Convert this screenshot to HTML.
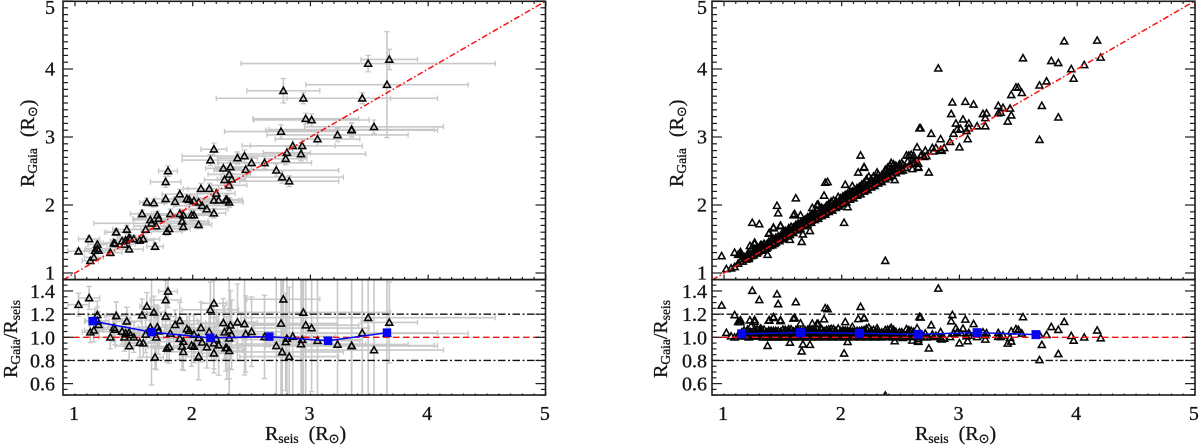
<!DOCTYPE html>
<html>
<head>
<meta charset="utf-8">
<title>Rgaia vs Rseis</title>
<style>
html,body{margin:0;padding:0;background:#fff;width:1200px;height:447px;overflow:hidden}
svg{display:block;filter:blur(0.3px)}
text{font-family:"Liberation Serif","DejaVu Serif",serif;fill:#151515;stroke:#151515;stroke-width:0.3px}
.sun{font-family:"DejaVu Sans",sans-serif;font-size:13px}
.sub{font-size:13.5px}
</style>
</head>
<body>
<svg id="chart" xmlns="http://www.w3.org/2000/svg" width="1200" height="447" viewBox="0 0 1200 447">
<defs>
<clipPath id="clip-left-upper"><rect x="63" y="1.3" width="482.5" height="278.3"/></clipPath>
<clipPath id="clip-left-lower"><rect x="63" y="279.6" width="482.5" height="115.4"/></clipPath>
<clipPath id="clip-right-upper"><rect x="712" y="1.3" width="483" height="278.3"/></clipPath>
<clipPath id="clip-right-lower"><rect x="712" y="279.6" width="483" height="115.4"/></clipPath>
</defs>
<g id="layer"></g>
<text transform="translate(34 187) rotate(-90)" font-size="20">R<tspan class="sub" dy="3">Gaia</tspan><tspan dy="-3" dx="11">(R</tspan><tspan class="sun" dy="3">⊙</tspan><tspan dy="-3">)</tspan></text>
<text transform="translate(683 187) rotate(-90)" font-size="20">R<tspan class="sub" dy="3">Gaia</tspan><tspan dy="-3" dx="11">(R</tspan><tspan class="sun" dy="3">⊙</tspan><tspan dy="-3">)</tspan></text>
<text transform="translate(17 378) rotate(-90)" font-size="20">R<tspan class="sub" dy="3">Gaia</tspan><tspan dy="-3">/R</tspan><tspan class="sub" dy="3">seis</tspan></text>
<text transform="translate(667 378) rotate(-90)" font-size="20">R<tspan class="sub" dy="3">Gaia</tspan><tspan dy="-3">/R</tspan><tspan class="sub" dy="3">seis</tspan></text>
<text x="265" y="440" font-size="20">R<tspan class="sub" dy="3">seis</tspan><tspan dy="-3" dx="10">(R</tspan><tspan class="sun" dy="3">⊙</tspan><tspan dy="-3">)</tspan></text>
<text x="915" y="440" font-size="20">R<tspan class="sub" dy="3">seis</tspan><tspan dy="-3" dx="10">(R</tspan><tspan class="sun" dy="3">⊙</tspan><tspan dy="-3">)</tspan></text>
</svg>
<script>
var xTickLabels = ['1','2','3','4','5'];
var upperYTickLabels = ['1','2','3','4','5'];
var lowerYTickLabels = ['0.6','0.8','1.0','1.2','1.4'];
var referenceLines = [0.8, 1.2];
var unityRange = [0.9, 5];

var leftRseis = [1.03,1.12,1.13,1.16,1.17,1.19,1.19,1.20,1.30,1.33,1.34,1.35,1.35,1.40,1.42,1.43,1.44,1.46,1.46,1.47,1.50,1.55,1.58,1.57,1.60,1.61,1.64,1.65,1.67,1.68,1.69,1.70,1.71,1.77,1.77,1.79,1.78,1.80,1.81,1.85,1.89,1.89,1.91,1.92,1.92,1.95,1.97,1.99,2.01,2.01,2.05,2.05,2.07,2.08,2.12,2.14,2.18,2.15,2.18,2.20,2.18,2.22,2.26,2.27,2.28,2.31,2.29,2.32,2.31,2.33,2.31,2.38,2.44,2.45,2.50,2.61,2.71,2.75,2.76,2.77,2.79,2.80,2.82,2.85,2.92,2.93,2.94,2.96,3.01,3.06,3.23,3.35,3.35,3.44,3.49,3.54,3.65,3.67];
var leftRgaia = [1.32,1.50,1.18,1.23,1.33,1.42,1.36,1.33,1.30,1.44,1.43,1.60,1.60,1.47,1.42,1.48,1.64,1.52,1.35,1.50,1.50,1.48,1.50,1.87,1.64,2.04,1.78,1.73,2.03,1.39,1.69,1.85,1.80,2.09,2.34,2.50,1.61,1.65,1.87,2.05,2.16,1.87,1.76,1.85,1.68,2.09,2.08,1.85,1.85,2.06,2.04,1.71,2.24,1.99,1.94,2.24,1.88,2.66,2.82,2.17,2.07,2.07,2.54,2.37,2.07,2.04,2.08,2.56,2.45,2.38,2.29,2.69,2.72,2.52,2.62,2.62,2.51,3.08,2.41,3.68,2.68,2.77,2.35,2.87,2.75,2.87,3.57,3.27,3.25,2.97,3.03,3.11,3.10,3.57,4.08,3.15,3.77,4.14];
var leftRseisErr = [.09,.09,.07,.08,.09,.08,.10,.08,.10,.09,.12,.10,.08,.10,.09,.11,.12,.10,.12,.09,.11,.12,.14,.10,.15,.06,.14,.49,.09,.07,.19,.16,.22,.09,.13,.08,.13,.18,.16,.11,.15,.20,.22,.25,.16,.19,.13,.15,.17,.14,.21,.11,.15,.24,.18,.18,.10,.24,.11,.16,.15,.20,.15,.17,.11,.12,.13,.13,.18,.12,.15,.17,.53,.25,.28,.40,.53,.48,.52,.31,.18,.20,.42,.36,.55,.51,.74,.45,.49,.36,.60,.70,.73,.64,1.08,.59,.69,.24];
var leftRgaiaErr = [.04,.04,.04,.04,.05,.05,.05,.04,.05,.05,.05,.05,.05,.05,.05,.05,.06,.05,.05,.05,.05,.05,.05,.06,.06,.06,.06,.06,.06,.05,.06,.06,.06,.07,.08,.08,.06,.06,.07,.07,.07,.07,.06,.07,.06,.07,.07,.07,.07,.07,.07,.06,.08,.07,.07,.08,.07,.08,.09,.07,.07,.07,.08,.08,.07,.07,.07,.09,.08,.08,.08,.09,.09,.09,.09,.09,.09,.10,.09,.18,.09,.09,.08,.10,.10,.10,.08,.08,.09,.10,.10,.10,.10,.08,.12,.10,.78,.15];
var leftRatioErr = [.10,.10,.09,.10,.11,.12,.12,.11,.10,.12,.13,.12,.12,.11,.12,.11,.12,.12,.13,.11,.13,.13,.12,.14,.16,.12,.12,.46,.14,.10,.28,.18,.20,.15,.17,.14,.12,.14,.16,.13,.16,.18,.20,.17,.16,.13,.15,.18,.14,.16,.15,.20,.22,.17,.18,.20,.17,.24,.20,.19,.22,.26,.21,.23,.20,.24,.27,.30,.62,.30,.26,.33,.44,.33,.30,.36,.70,.65,.75,.50,.42,.55,.60,.55,.95,.95,.90,.62,.55,.62,.75,.85,.85,.80,.90,.85,.85,.35];

var rightRseis = [0.98,1.02,1.06,1.09,1.09,1.13,1.14,1.24,1.30,1.22,1.26,1.37,1.38,1.42,1.45,1.46,1.48,1.61,1.60,1.66,1.73,1.85,1.86,1.88,1.80,2.02,2.05,2.03,2.09,2.14,2.19,2.16,2.37,2.45,2.30,2.64,2.66,
2.82,2.67,2.76,2.84,2.74,3.00,3.07,2.94,3.05,3.12,2.93,3.03,2.97,3.08,2.95,2.98,3.01,3.06,3.08,3.15,3.22,3.20,3.23,3.22,3.33,3.33,3.35,3.37,3.43,3.44,3.41,3.44,3.48,3.50,3.53,3.54,3.68,3.74,3.70,3.68,3.84,3.78,3.84,3.89,3.95,3.97,4.06,4.17,4.20,
2.52,2.55,2.57,2.59,2.61,2.68,2.71,2.67,2.72,2.60,2.65,2.65,2.60,2.65,2.52,2.77,2.80,2.84,2.87,2.85,
1.12,1.14,1.15,1.16,1.17,1.18,1.19,1.20,1.21,1.22,1.23,1.24,1.25,1.26,1.26,1.27,1.28,1.29,1.30,1.31,1.32,1.33,1.34,1.35,1.36,1.37,1.38,1.39,1.40,1.41,1.42,1.43,1.44,1.45,1.46,1.47,1.48,1.49,1.50,1.51,1.52,1.53,1.54,1.55,1.55,1.56,1.57,1.58,1.59,1.60,1.61,1.62,1.63,1.64,1.65,1.66,1.67,1.68,1.69,1.70,1.71,1.72,1.73,1.74,1.75,1.76,1.77,1.78,1.79,1.80,1.81,1.82,1.83,1.84,1.85,1.86,1.87,1.88,1.89,1.90,1.91,1.92,1.93,1.94,1.95,1.96,1.97,1.98,1.99,2.00,2.01,2.02,2.03,2.04,2.05,2.06,2.07,2.08,2.09,2.10,2.11,2.12,2.13,2.14,2.15,2.16,2.17,2.18,2.19,2.20,2.21,2.22,2.23,2.24,2.25,2.26,2.27,2.28,2.29,2.30,2.31,2.32,2.34,2.35,2.37,2.38,2.39,2.40,2.41,2.42,2.43,2.44,2.45,2.46,2.47,2.49,2.50,2.51,
1.205,1.275,1.335,1.395,1.445,1.505,1.565,1.605,1.655,1.705,1.755,1.805,1.855,1.905,1.955,2.005,2.055,2.105,2.155,2.205,2.255,2.305,2.355,2.405,2.455,1.225,1.315,1.375,1.475,1.525,1.585,1.635,1.685,1.735,1.785,1.835,1.885,1.935,1.985,2.035,2.085,2.135,2.185,2.235,2.285,
1.12,1.14,1.26,1.385,1.42,1.48,1.59,2.19,1.67,1.56,1.65,1.75,1.79,1.31,1.23,1.43,
1.21,1.25,1.28,1.33,1.36,1.39,1.41,1.44,1.47,1.50,1.53,1.56,1.59,1.62,1.65,1.68,1.71,1.74,1.77,1.80,1.83,1.86,1.89,1.92,1.95,1.98,2.01,2.04,2.07,2.10,2.13,2.16,2.19,2.22,2.25,2.28,2.31,2.34,2.37,2.40,2.43,2.46,2.50,2.54,2.58,2.62,2.70,2.78,2.92,
1.24,1.30,1.36,1.42,1.48,1.54,1.60,1.66,1.72,1.78,1.84,1.90,1.96,2.02,2.08,2.14,2.20,2.26,2.32,2.38,2.44,2.50,2.56,2.60];
var rightRgaia = [1.25,1.06,1.07,1.09,1.30,1.28,1.31,1.74,1.72,1.40,1.45,1.27,1.58,1.66,1.99,1.88,1.69,2.10,1.87,1.46,1.62,2.14,2.33,2.34,2.01,1.74,1.97,2.30,2.28,2.48,2.56,2.73,1.18,2.37,2.48,2.85,3.13,
4.01,3.13,3.05,2.97,2.48,2.85,2.97,3.51,3.52,3.48,3.34,3.26,3.20,3.20,3.05,3.11,3.12,3.09,3.13,3.16,3.16,3.34,3.35,3.28,3.46,3.35,3.36,3.43,3.42,3.32,3.23,3.62,3.73,3.73,3.65,4.16,3.76,3.82,3.46,2.96,3.29,4.12,4.09,4.41,4.00,3.86,4.06,4.42,4.17,
2.59,2.73,2.73,2.74,2.73,2.74,2.80,2.72,2.72,2.61,2.61,2.56,2.53,2.55,2.51,2.84,2.84,2.81,2.84,2.80,
1.14,1.17,1.20,1.17,1.24,1.21,1.20,1.28,1.23,1.27,1.25,1.28,1.27,1.30,1.35,1.29,1.37,1.31,1.38,1.33,1.41,1.35,1.43,1.37,1.42,1.38,1.46,1.41,1.48,1.43,1.50,1.45,1.52,1.47,1.54,1.49,1.55,1.51,1.60,1.53,1.62,1.55,1.63,1.57,1.66,1.60,1.68,1.61,1.67,1.63,1.71,1.65,1.73,1.67,1.74,1.70,1.76,1.71,1.79,1.73,1.82,1.76,1.84,1.77,1.87,1.80,1.89,1.81,1.92,1.83,1.90,1.85,1.96,1.88,1.95,1.89,1.99,1.92,2.02,1.93,2.05,1.96,2.07,1.97,2.06,2.00,2.12,2.01,2.10,2.04,2.13,2.06,2.15,2.08,2.17,2.10,2.18,2.11,2.20,2.14,2.22,2.15,2.25,2.17,2.27,2.20,2.30,2.21,2.33,2.24,2.38,2.26,2.42,2.28,2.38,2.30,2.42,2.32,2.40,2.34,2.45,2.36,2.44,2.39,2.52,2.42,2.55,2.44,2.58,2.62,2.47,2.60,2.49,2.58,2.53,2.60,2.52,2.62,
1.26,1.33,1.39,1.46,1.51,1.57,1.63,1.68,1.73,1.78,1.84,1.89,1.94,1.99,2.04,2.09,2.14,2.19,2.24,2.29,2.34,2.39,2.44,2.49,2.54,1.28,1.37,1.43,1.53,1.59,1.66,1.71,1.75,1.80,1.86,1.91,1.96,2.01,2.07,2.11,2.16,2.21,2.26,2.31,2.36,
1.27,1.29,1.43,1.59,1.67,1.70,1.85,2.55,1.57,1.49,1.85,1.96,2.00,1.41,1.35,1.43,
1.21,1.26,1.29,1.33,1.36,1.40,1.41,1.45,1.47,1.50,1.54,1.56,1.59,1.63,1.65,1.69,1.71,1.74,1.78,1.80,1.84,1.86,1.90,1.92,1.96,1.98,2.02,2.04,2.08,2.10,2.14,2.16,2.20,2.22,2.26,2.28,2.32,2.34,2.38,2.41,2.43,2.47,2.50,2.55,2.60,2.63,2.71,2.79,2.93,
1.28,1.34,1.40,1.47,1.53,1.59,1.65,1.71,1.78,1.84,1.90,1.96,2.03,2.09,2.15,2.21,2.27,2.33,2.40,2.46,2.52,2.58,2.64,2.66];

var binCenters = [1.15,1.65,2.15,2.65,3.15,3.65];
var leftBinRatio = [1.14,1.045,0.995,1.006,0.97,1.04];
var rightBinRatio = [1.03,1.04,1.035,1.026,1.04,1.023];

var NS = 'http://www.w3.org/2000/svg';
var layer = document.getElementById('layer');

function mk(parent, tag, attrs, name) {
  var el = document.createElementNS(NS, tag);
  for (var k in attrs) { el.setAttribute(k, attrs[k]); }
  
  
  parent.appendChild(el);
  return el;
}

function xAxisFor(x1) {
  return function (v) { return x1 + (v - 1) * 117.72; };
}
function yUpper(v) { return 273 - (v - 1) * 68; }
function yLower(v) { return 337.3 - (v - 1) * 115.8; }

var AXIS = '#1c1c1c';
var GREY = '#c8c8c8';

function tick(g, x1, y1, x2, y2, name) {
  mk(g, 'line', {x1: x1, y1: y1, x2: x2, y2: y2, stroke: AXIS, 'stroke-width': 1.2}, name);
}

function drawFrame(id, X, left, right, labelRight) {
  var g = mk(layer, 'g', {}, id + '-axes');
  var top = 1.3, mid = 279.6, bot = 395, i, v, p, major;

  for (i = 0; i <= 40; i++) {
    v = 1 + i * 0.1;
    p = X(v);
    major = i % 10 === 0;
    tick(g, p, top, p, top + (major ? 5 : 2.6), 'x-tick-top');
    tick(g, p, mid, p, mid - (major ? 5 : 2.6), 'x-tick-middle');
    tick(g, p, bot, p, bot - 1.5, 'x-tick-bottom');
  }
  for (i = 0; i <= 40; i++) {
    v = 1 + i * 0.1;
    p = yUpper(v);
    major = i % 10 === 0;
    tick(g, left, p, left + (major ? 10 : 5), p, 'y-tick-left');
    tick(g, right, p, right - (major ? 10 : 5), p, 'y-tick-right');
  }
  for (i = 0; i <= 20; i++) {
    v = 0.5 + i * 0.05;
    p = yLower(v);
    major = (i % 4 === 2);
    tick(g, left, p, left + (major ? 10 : 4.5), p, 'ratio-tick-left');
    tick(g, right, p, right - (major ? 10 : 4.5), p, 'ratio-tick-right');
  }
  mk(g, 'rect', {x: left, y: top, width: right - left, height: mid - top, fill: 'none', stroke: AXIS, 'stroke-width': 1.6}, id + '-upper-frame');
  mk(g, 'rect', {x: left, y: mid, width: right - left, height: bot - mid, fill: 'none', stroke: AXIS, 'stroke-width': 1.6}, id + '-lower-frame');

  xTickLabels.forEach(function (t) {
    var n = mk(g, 'text', {x: X(+t) - 1, y: 420, 'font-size': 20, 'text-anchor': 'middle'}, 'x-tick-label');
    n.textContent = t;
  });
  upperYTickLabels.forEach(function (t) {
    var baseline = Math.max(yUpper(+t) + 6.4, 14);
    var n = mk(g, 'text', {x: labelRight, y: baseline, 'font-size': 20, 'text-anchor': 'end'}, 'y-tick-label');
    n.textContent = t;
  });
  lowerYTickLabels.forEach(function (t) {
    var n = mk(g, 'text', {x: labelRight, y: yLower(+t) + 7, 'font-size': 20, 'text-anchor': 'end'}, 'ratio-tick-label');
    n.textContent = t;
  });
}

function errBar(g, x1, y1, x2, y2, horizontal, name) {
  mk(g, 'line', {x1: x1, y1: y1, x2: x2, y2: y2, stroke: GREY, 'stroke-width': 1.6}, name);
  var c = 2.7;
  if (horizontal) {
    mk(g, 'line', {x1: x1, y1: y1 - c, x2: x1, y2: y1 + c, stroke: GREY, 'stroke-width': 1.3}, name + '-cap');
    mk(g, 'line', {x1: x2, y1: y2 - c, x2: x2, y2: y2 + c, stroke: GREY, 'stroke-width': 1.3}, name + '-cap');
  } else {
    mk(g, 'line', {x1: x1 - c, y1: y1, x2: x1 + c, y2: y1, stroke: GREY, 'stroke-width': 1.3}, name + '-cap');
    mk(g, 'line', {x1: x2 - c, y1: y2, x2: x2 + c, y2: y2, stroke: GREY, 'stroke-width': 1.3}, name + '-cap');
  }
}

function triangle(g, px, py, name) {
  var pts = (px - 3.5) + ',' + (py + 2.7) + ' ' + (px + 3.5) + ',' + (py + 2.7) + ' ' + px + ',' + (py - 3.5);
  mk(g, 'polygon', {points: pts, fill: 'none', stroke: '#050505', 'stroke-width': 1.55, 'stroke-linejoin': 'miter'}, name);
}

function drawUnity(g, X) {
  mk(g, 'line', {
    x1: X(unityRange[0]), y1: yUpper(unityRange[0]),
    x2: X(unityRange[1]), y2: yUpper(unityRange[1]),
    stroke: '#f81010', 'stroke-width': 1.5, 'stroke-dasharray': '6 2.4 1.6 2.4'
  }, 'unity-line');
}

function drawRefs(g, X, xa, xb) {
  mk(g, 'line', {x1: xa, y1: yLower(1), x2: xb, y2: yLower(1), stroke: '#f81010', 'stroke-width': 1.4, 'stroke-dasharray': '6.5 3.5'}, 'ratio-unity-line');
  referenceLines.forEach(function (r) {
    mk(g, 'line', {x1: xa, y1: yLower(r), x2: xb, y2: yLower(r), stroke: '#111', 'stroke-width': 1.4, 'stroke-dasharray': '7.5 2.5 2 2.5'}, 'ratio-limit-line');
  });
}

function drawBins(g, X, values, size) {
  var d = '';
  values.forEach(function (r, i) {
    d += (i ? 'L' : 'M') + X(binCenters[i]) + ' ' + yLower(r);
  });
  mk(g, 'path', {d: d, fill: 'none', stroke: '#0505f0', 'stroke-width': 1.5}, 'binned-mean-line');
  values.forEach(function (r, i) {
    mk(g, 'rect', {x: X(binCenters[i]) - size / 2, y: yLower(r) - size / 2, width: size, height: size, fill: '#0505f0'}, 'binned-mean-square');
  });
}

/* left panels */
var XL = xAxisFor(75);
var gLU = mk(layer, 'g', {'clip-path': 'url(#clip-left-upper)'}, 'left-upper-plot');
var gLL = mk(layer, 'g', {'clip-path': 'url(#clip-left-lower)'}, 'left-lower-plot');

leftRseis.forEach(function (x, i) {
  var y = leftRgaia[i], xe = leftRseisErr[i], ye = leftRgaiaErr[i], r = y / x, re = leftRatioErr[i];
  errBar(gLU, XL(x - xe), yUpper(y), XL(x + xe), yUpper(y), true, 'x-error-bar');
  errBar(gLU, XL(x), yUpper(y - ye), XL(x), yUpper(y + ye), false, 'y-error-bar');
  errBar(gLL, XL(x - xe), yLower(r), XL(x + xe), yLower(r), true, 'x-error-bar');
  errBar(gLL, XL(x), yLower(r - re), XL(x), yLower(r + re), false, 'ratio-error-bar');
});
drawRefs(gLL, XL, 63, 545.5);
leftRseis.forEach(function (x, i) {
  var y = leftRgaia[i];
  triangle(gLU, XL(x), yUpper(y), 'star-point');
  triangle(gLL, XL(x), yLower(y / x), 'ratio-point');
});
drawUnity(gLU, XL);
drawBins(gLL, XL, leftBinRatio, 8.5);
drawFrame('left', XL, 63, 545.5, 55);

/* right panels */
var XR = xAxisFor(724);
var gRU = mk(layer, 'g', {'clip-path': 'url(#clip-right-upper)'}, 'right-upper-plot');
var gRL = mk(layer, 'g', {'clip-path': 'url(#clip-right-lower)'}, 'right-lower-plot');

rightRseis.forEach(function (x, i) {
  var y = rightRgaia[i];
  triangle(gRU, XR(x), yUpper(y), 'star-point');
  triangle(gRL, XR(x), yLower(y / x), 'ratio-point');
});
drawRefs(gRL, XR, 712, 1195);
drawUnity(gRU, XR);
drawBins(gRL, XR, rightBinRatio, 9);
drawFrame('right', XR, 712, 1195, 707);
</script>
</body>
</html>
